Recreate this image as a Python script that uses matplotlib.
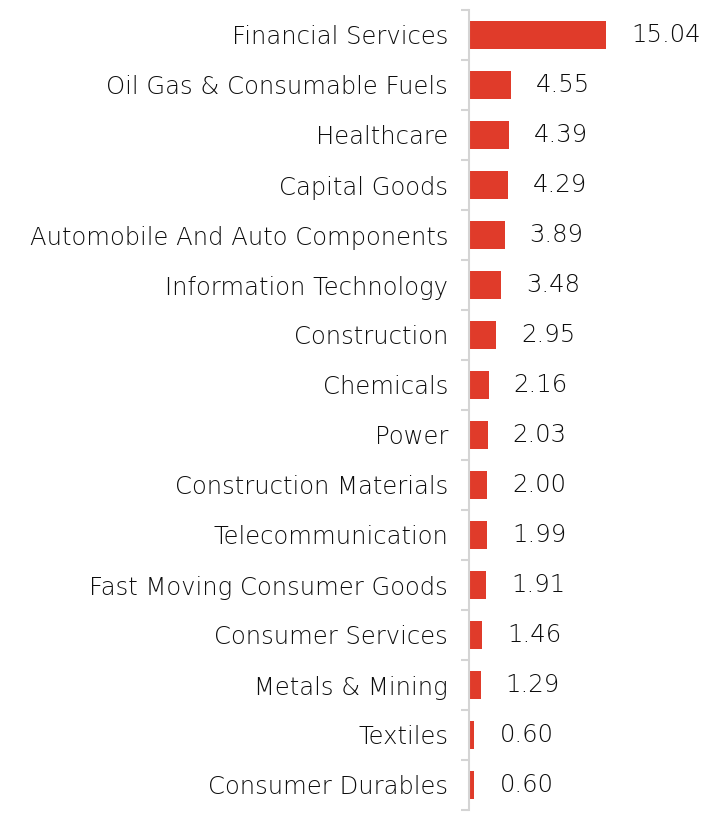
import matplotlib
matplotlib.use("Agg")
import matplotlib.pyplot as plt
import numpy as np

sectors = [
    "Financial Services", "Oil Gas & Consumable Fuels", "Healthcare", "Capital Goods",
    "Automobile And Auto Components", "Information Technology", "Construction", "Chemicals",
    "Power", "Construction Materials", "Telecommunication", "Fast Moving Consumer Goods",
    "Consumer Services", "Metals & Mining", "Textiles", "Consumer Durables",
]
weights = [15.04, 4.55, 4.39, 4.29, 3.89, 3.48, 2.95, 2.16, 2.03, 2.00, 1.99, 1.91, 1.46, 1.29, 0.60, 0.60]

RED = "#e03b2a"
TEXT = "#0d0d0d"
GRID = "#d4d4d4"

plt.rcParams["font.family"] = ["DejaVu Sans"]
plt.rcParams["font.weight"] = 200

W, H = 716, 823
fig = plt.figure(figsize=(W / 100, H / 100), dpi=100)
left, top, bottom = 469, 10, 810
ax = fig.add_axes([left / W, (H - bottom) / H, (W - left) / W, (bottom - top) / H])

y = np.arange(len(sectors))
ax.barh(y, weights, height=0.56, color=RED)
ax.set_ylim(len(sectors) - 0.5, -0.5)
ax.set_xlim(0, (W - left) / 9.13)

for yi, v in zip(y, weights):
    ax.annotate(f"{v:.2f}", (v, yi), xytext=(18, 0), textcoords="offset points",
                va="center", ha="left", fontsize=17.5, color=TEXT)

ax.set_yticks(y)
ax.set_yticklabels(sectors, fontsize=17.5, color=TEXT)
ax.set_yticks(np.arange(len(sectors) + 1) - 0.5, minor=True)
ax.tick_params(axis="y", which="major", length=0, pad=15)
ax.tick_params(axis="y", which="minor", length=6, width=1.5, color=GRID)
ax.set_xticks([])
for s in ["top", "right", "bottom"]:
    ax.spines[s].set_visible(False)
ax.spines["left"].set_color(GRID)
ax.spines["left"].set_linewidth(1.5)
ax.patch.set_visible(False)

fig.savefig("out.png", dpi=100)
